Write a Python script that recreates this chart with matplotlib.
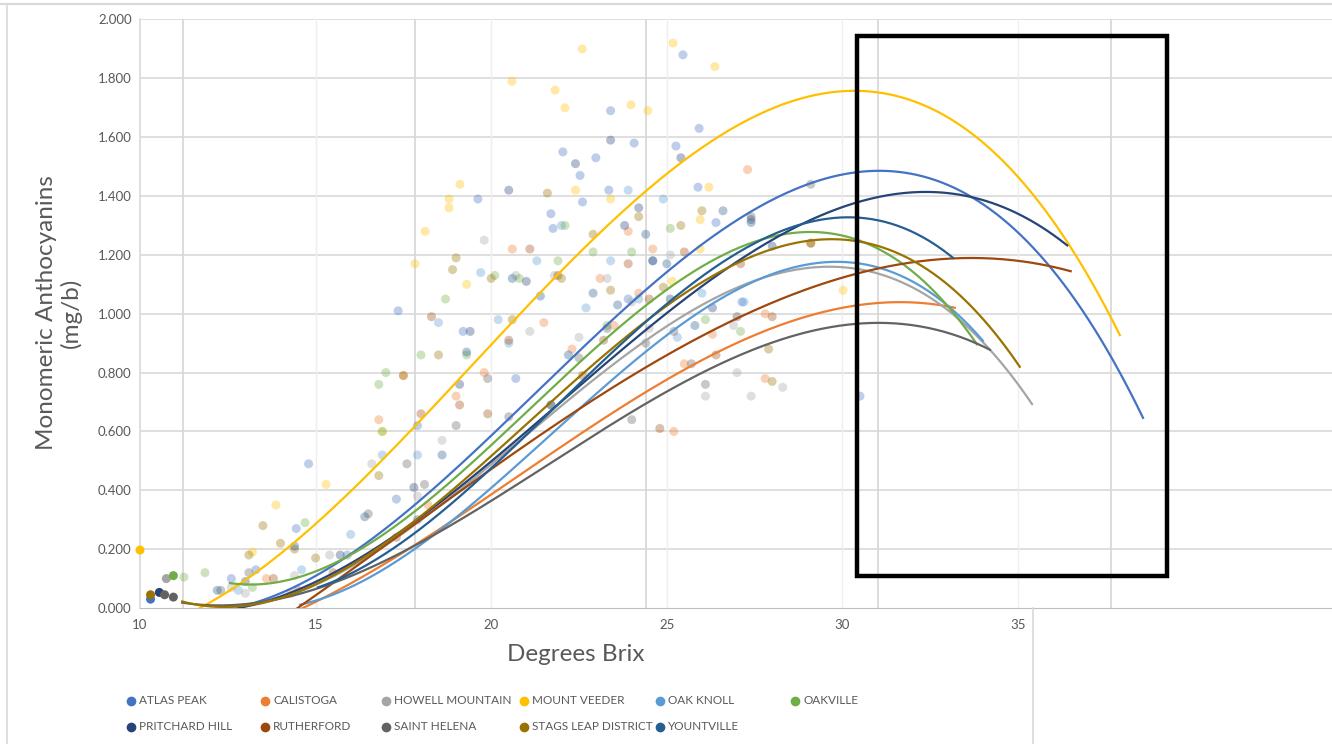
import numpy as np
import matplotlib
matplotlib.use("Agg")
import matplotlib.pyplot as plt
from matplotlib.lines import Line2D
from matplotlib.patches import Rectangle

plt.rcParams['font.family'] = ['Lato', 'DejaVu Sans']

regions = ["ATLAS PEAK", "CALISTOGA", "HOWELL MOUNTAIN", "MOUNT VEEDER", "OAK KNOLL", "OAKVILLE",
           "PRITCHARD HILL", "RUTHERFORD", "SAINT HELENA", "STAGS LEAP DISTRICT", "YOUNTVILLE"]
colors = ["#4472C4", "#ED7D31", "#A5A5A5", "#FFC000", "#5B9BD5", "#70AD47",
          "#264478", "#9E480E", "#636363", "#997300", "#255E91"]

# sample points (Brix, anthocyanins) per region
atlas_x = [10.3, 12.6, 13.3, 14.45, 14.8, 15.9, 17.35, 17.3, 17.9, 19.2, 19.62, 20.7, 21.7, 21.76, 22.04, 22.53,
           22.6, 22.98, 23.35, 23.4, 24.07, 25.26, 25.46, 25.92, 25.89, 26.4, 27.14, 30.5, 24.6, 23.9]
atlas_y = [0.03, 0.10, 0.13, 0.27, 0.49, 0.18, 1.01, 0.37, 0.62, 0.94, 1.39, 0.78, 1.34, 1.29, 1.55, 1.47,
           1.38, 1.53, 1.42, 1.69, 1.58, 1.57, 1.88, 1.63, 1.43, 1.31, 1.04, 0.72, 1.18, 1.05]
calistoga_x = [13.6, 14.3, 16.8, 17.5, 18.2, 19.0, 19.8, 20.6, 21.5, 22.3, 23.1, 23.5, 23.9, 24.2, 24.6, 25.5,
               26.3, 25.2, 27.0, 27.3, 27.8, 27.8]
calistoga_y = [0.10, 0.05, 0.64, 0.79, 0.35, 0.72, 0.80, 1.22, 0.97, 0.88, 1.12, 0.96, 1.28, 1.07, 1.22, 0.83,
               0.93, 0.60, 0.99, 1.49, 1.00, 0.78]
howell_x = [10.75, 12.6, 13.0, 14.4, 15.4, 16.6, 17.9, 18.6, 19.8, 20.7, 21.1, 21.8, 22.5, 23.3, 24.0, 24.5,
            25.1, 26.1, 27.0, 27.4, 28.3, 26.9]
howell_y = [0.10, 0.07, 0.05, 0.11, 0.18, 0.49, 0.38, 0.57, 1.25, 1.13, 0.94, 1.13, 0.92, 1.12, 1.04, 0.95,
            1.20, 0.72, 0.80, 0.72, 0.75, 0.96]
veeder_x = [10.0, 13.2, 13.87, 15.3, 16.9, 17.83, 18.12, 18.8, 18.8, 19.11, 19.3, 20.59, 21.82, 22.1, 22.59,
            23.4, 23.98, 24.46, 25.15, 25.18, 25.95, 25.95, 26.2, 26.37, 30.02, 22.4]
veeder_y = [0.197, 0.19, 0.35, 0.42, 0.60, 1.17, 1.28, 1.36, 1.39, 1.44, 1.10, 1.79, 1.76, 1.70, 1.90,
            1.39, 1.71, 1.69, 1.11, 1.92, 1.22, 1.32, 1.43, 1.84, 1.08, 1.42]
oakknoll_x = [12.8, 14.6, 16.0, 16.9, 17.9, 18.5, 19.7, 20.5, 21.3, 22.0, 22.7, 23.4, 24.2, 24.9, 25.3, 26.0,
              27.0, 27.2, 23.9, 20.2]
oakknoll_y = [0.06, 0.13, 0.25, 0.52, 0.52, 0.97, 1.14, 0.90, 1.18, 1.30, 1.02, 1.18, 1.05, 1.39, 0.92, 1.07,
              0.99, 1.04, 1.42, 0.98]
oakville_x = [10.95, 11.25, 11.85, 13.2, 14.7, 16.8, 16.9, 17.0, 18.0, 18.7, 19.3, 20.1, 20.8, 21.9, 22.1,
              23.3, 24.0, 25.1, 26.1, 27.1, 22.9]
oakville_y = [0.11, 0.105, 0.12, 0.07, 0.29, 0.76, 0.60, 0.80, 0.86, 1.05, 0.86, 1.13, 1.12, 1.18, 1.30,
              0.96, 1.21, 1.29, 0.98, 0.94, 1.21]
pritchard_x = [10.55, 13.0, 15.7, 17.8, 19.1, 19.4, 20.5, 21.0, 21.7, 22.4, 23.4, 23.8, 24.2, 24.6, 25.4,
               26.3, 27.4, 25.1, 28.0]
pritchard_y = [0.053, 0.09, 0.18, 0.41, 0.76, 0.94, 1.42, 1.11, 0.69, 1.51, 1.59, 1.30, 1.36, 1.18, 1.53,
               1.02, 1.32, 1.05, 1.23]
rutherford_x = [13.8, 15.5, 17.3, 18.0, 18.3, 19.1, 19.9, 20.5, 21.1, 21.9, 22.6, 23.2, 23.9, 24.5, 24.8,
                25.5, 26.4, 27.1, 28.0, 29.1]
rutherford_y = [0.10, 0.12, 0.24, 0.66, 0.99, 0.69, 0.66, 0.91, 1.22, 1.13, 0.79, 0.91, 1.17, 1.05, 0.61,
                1.21, 0.86, 1.17, 0.99, 1.24]
helena_x = [10.7, 10.95, 12.3, 13.1, 14.5, 16.5, 17.6, 18.1, 19.0, 19.9, 20.5, 21.7, 22.5, 23.3, 24.0, 24.4,
            25.2, 25.7, 26.1, 29.1, 27.4]
helena_y = [0.045, 0.037, 0.06, 0.12, 0.06, 0.32, 0.49, 0.42, 0.62, 0.78, 0.65, 0.69, 0.85, 0.95, 0.64, 0.90,
            0.94, 0.83, 0.76, 1.44, 1.33]
stags_x = [10.3, 13.1, 13.5, 14.0, 14.4, 15.0, 16.8, 17.5, 18.5, 18.9, 19.0, 20.0, 20.6, 21.6, 22.0, 22.9,
           23.4, 24.2, 24.9, 25.4, 26.0, 28.0, 27.9, 29.1]
stags_y = [0.045, 0.18, 0.28, 0.22, 0.20, 0.17, 0.45, 0.79, 0.86, 1.15, 1.19, 1.12, 0.98, 1.41, 1.12, 1.27,
           1.08, 1.33, 1.09, 1.30, 1.35, 0.77, 0.88, 1.24]
yount_x = [12.2, 14.4, 16.4, 17.9, 18.6, 19.3, 20.6, 21.4, 22.2, 22.9, 23.6, 24.4, 25.0, 25.8, 26.6, 27.4]
yount_y = [0.06, 0.21, 0.31, 0.30, 0.52, 0.87, 1.12, 1.06, 0.86, 1.07, 1.03, 1.27, 1.17, 0.96, 1.35, 1.31]

point_x = [atlas_x, calistoga_x, howell_x, veeder_x, oakknoll_x, oakville_x,
           pritchard_x, rutherford_x, helena_x, stags_x, yount_x]
point_y = [atlas_y, calistoga_y, howell_y, veeder_y, oakknoll_y, oakville_y,
           pritchard_y, rutherford_y, helena_y, stags_y, yount_y]

# trendline readings (Brix, value) along each fitted curve
trend_x = [
    [12.6, 18.8, 23.1, 27.0, 31.0, 35.9, 38.56],
    [14.6, 20.0, 23.1, 27.4, 31.07, 33.2],
    [12.3, 17.5, 23.1, 29.4, 35.4],
    [11.7, 14.27, 15.6, 18.6, 20.7, 24.4, 30.1, 34.5, 37.9],
    [14.56, 18.54, 23.1, 29.9, 34.0],
    [12.56, 15.4, 17.1, 23.1, 29.0, 33.83],
    [12.8, 23.1, 30.5, 32.6, 36.4],
    [14.47, 18.83, 23.1, 30.2, 34.2, 36.5],
    [11.2, 12.5, 15.98, 18.83, 23.1, 31.07, 34.2],
    [11.2, 12.5, 17.1, 23.1, 29.5, 35.05],
    [15.07, 23.1, 29.93, 33.15],
]
trend_y = [
    [0.0, 0.45, 0.92, 1.36, 1.465, 1.154, 0.653],
    [0.0, 0.37, 0.66, 0.907, 1.042, 1.02],
    [0.0, 0.25, 0.80, 1.155, 0.694],
    [0.0, 0.23, 0.33, 0.71, 0.98, 1.43, 1.77, 1.5, 0.94],
    [0.0, 0.30, 0.70, 1.20, 0.90],
    [0.078, 0.163, 0.255, 0.89, 1.285, 0.894],
    [0.0, 0.815, 1.38, 1.415, 1.232],
    [0.0, 0.367, 0.727, 1.13, 1.184, 1.147],
    [0.02, 0.005, 0.118, 0.264, 0.61, 0.964, 0.88],
    [0.02, 0.01, 0.22, 0.86, 1.245, 0.822],
    [0.07, 0.83, 1.327, 1.19],
]

yticks = [0.0, 0.2, 0.4, 0.6, 0.8, 1.0, 1.2, 1.4, 1.6, 1.8, 2.0]
xticks = [10, 15, 20, 25, 30, 35]
minor_grid = [11.22, 17.83, 24.41, 31.01, 37.65]

fig = plt.figure(figsize=(13.32, 7.44), dpi=100)
ax = fig.add_axes([140 / 1332, 136 / 744, 1192 / 1332, 588.5 / 744])
ax.set_xlim(10, 10 + 1192 / 35.12)
ax.set_ylim(0, 2.0)

for y in yticks[1:]:
    ax.axhline(y, color="#d9d9d9", lw=1.2, zorder=0)
for x in xticks[1:]:
    ax.axvline(x, color="#efefef", lw=1.0, zorder=0)
for x in minor_grid:
    ax.axvline(x, color="#d9d9d9", lw=1.3, zorder=0)

for xs, ys, c in zip(point_x, point_y, colors):
    xs = np.array(xs)
    ys = np.array(ys)
    solid = xs < 11.22
    if solid.any():
        ax.scatter(xs[solid], ys[solid], s=42, color=c, edgecolors="none", zorder=3, clip_on=False)
    ax.scatter(xs[~solid], ys[~solid], s=42, color=c, alpha=0.35, edgecolors="none", zorder=2)

for tx, ty, c in zip(trend_x, trend_y, colors):
    coef = np.polyfit(tx, ty, 3)
    xx = np.linspace(tx[0], tx[-1], 300)
    ax.plot(xx, np.polyval(coef, xx), color=c, lw=1.6, zorder=4)

ax.add_patch(Rectangle((30.42, 0.109), 8.82, 1.835, fill=False, edgecolor="black", lw=3.2, zorder=6))

for s in ["top", "right"]:
    ax.spines[s].set_visible(False)
ax.spines["bottom"].set_color("#bfbfbf")
ax.spines["left"].set_color("#d9d9d9")
ax.spines["left"].set_linewidth(1.2)

ax.set_yticks(yticks)
ax.set_yticklabels([f"{v:.3f}" for v in yticks])
ax.set_xticks(xticks)
ax.set_xticklabels([str(v) for v in xticks])
ax.tick_params(axis="both", length=0, labelsize=9.5, labelcolor="#595959")
ax.tick_params(axis="y", pad=6)
ax.tick_params(axis="x", pad=8)

ax.set_xlabel("Degrees Brix", fontsize=17.5, color="#595959")
ax.xaxis.set_label_coords((576 - 140) / 1192, -0.062)
fig.text(59 / 1332, 1 - 313 / 744, "Monomeric Anthocyanins\n(mg/b)", rotation=90, ha="center", va="center",
         fontsize=17.5, color="#595959", multialignment="center", linespacing=1.12)

# legend
leg_cols = [131, 265, 386, 524, 660, 795]
leg_rows = [701, 727]
for i, (name, c) in enumerate(zip(regions, colors)):
    mx = leg_cols[i % 6] / 1332
    my = 1 - leg_rows[i // 6] / 744
    fig.add_artist(Line2D([mx], [my], marker="o", markersize=7, color=c, markeredgewidth=0,
                          transform=fig.transFigure))
    fig.text(mx + 8 / 1332, my, name, ha="left", va="center", fontsize=8.5, color="#595959")

# frame lines
fig.add_artist(Line2D([0, 1], [1 - 3.5 / 744] * 2, color="#d9d9d9", lw=1.5, transform=fig.transFigure))
fig.add_artist(Line2D([7 / 1332] * 2, [0, 1 - 3.5 / 744], color="#d9d9d9", lw=1.2, transform=fig.transFigure))
fig.add_artist(Line2D([1033 / 1332] * 2, [0, 136 / 744], color="#d9d9d9", lw=1.2, transform=fig.transFigure))

fig.savefig("out.png", dpi=100)
